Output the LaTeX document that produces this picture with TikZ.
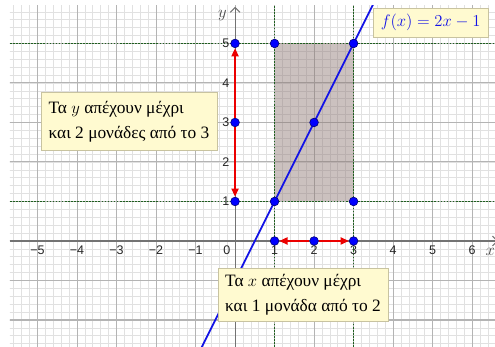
\documentclass[tikz,border=0pt]{standalone}
\usepackage[no-math]{fontspec}
\newfontfamily\grfont{Liberation Serif}
\newfontfamily\ticksf{Liberation Sans}
\usetikzlibrary{arrows.meta}

\definecolor{gridmajor}{RGB}{180,180,180}
\definecolor{gridminor}{RGB}{225,225,225}
\definecolor{dotgreen}{RGB}{30,95,30}
\definecolor{linefx}{RGB}{20,20,230}
\definecolor{boxfill}{RGB}{255,250,208}
\definecolor{boxdraw}{RGB}{200,195,160}
\definecolor{rectfill}{RGB}{140,118,115}
\definecolor{arrowred}{RGB}{235,0,0}

\begin{document}
\begin{tikzpicture}[>=Latex,
    minorgrid/.style={draw=gridminor, line width=0.5pt},
    majorgrid/.style={draw=gridmajor, line width=0.75pt},
    guide/.style={draw=dotgreen, line width=1.3pt, dash pattern=on 1.2pt off 1pt},
    axisline/.style={draw=black!55, line width=0.8pt, -{Straight Barb[length=3.5pt,width=7pt]}},
    blupt/.style={circle, fill=blue, draw=blue!45!black, line width=0.4pt, minimum size=0.22cm, inner sep=0pt},
    spread/.style={draw=arrowred, line width=1.7pt, -{Triangle[length=6pt,width=5pt]}},
    ticklabel/.style={font=\ticksf\fontsize{9}{10}\selectfont, text=black!85, inner sep=0pt},
    notebox/.style={draw=boxdraw, fill=boxfill, align=left, inner sep=0pt, font=\grfont\fontsize{12.5}{18}\selectfont}]
    \useasboundingbox[fill=white] (-5.95,-2.68) rectangle (6.58,6.10);

    % grid, shaded strip, guides, axes and graph
    \begin{scope}
      \clip (-5.7,-2.68) rectangle (6.58,5.95);
      \draw[minorgrid] (-6,-3) grid[step=0.2] (7,6);
      \draw[majorgrid] (-6,-3) grid[step=1] (7,6);
      \fill[rectfill, opacity=0.45] (1,1) rectangle (3,5);
      \draw[guide] (-5.7,5) -- (6.58,5);
      \draw[guide] (-5.7,1) -- (6.58,1);
      \draw[guide] (1,-2.68) -- (1,5.95);
      \draw[guide] (3,-2.68) -- (3,5.95);
      \draw[axisline] (-5.7,0) -- (6.66,0);
      \draw[axisline] (0,-2.68) -- (0,5.93);
      \draw[linefx, line width=1.3pt] (-0.9,-2.8) -- (3.55,6.1);
    \end{scope}

    % tick labels
    \foreach \k in {1,...,5}
      \node[ticklabel] (xn\k) at (-\k,-0.23) {−\k};
    \foreach \k in {1,...,6}
      \node[ticklabel] (xp\k) at (\k,-0.23) {\k};
    \foreach \k in {1,...,5}
      \node[ticklabel] (yp\k) at (-0.23,\k) {\k};
    \node[ticklabel] (orig) at (-0.21,-0.23) {0};
    \node[font=\fontsize{13}{15}\selectfont, text=black!70] (ylab) at (-0.32,5.70) {$y$};
    \node[font=\fontsize{13}{15}\selectfont, text=black!70] (xlab) at (6.46,-0.27) {$x$};

    % points
    \node[blupt] (y5) at (0,5) {};
    \node[blupt] (y3) at (0,3) {};
    \node[blupt] (y1) at (0,1) {};
    \node[blupt] (x1) at (1,0) {};
    \node[blupt] (x2) at (2,0) {};
    \node[blupt] (x3) at (3,0) {};
    \node[blupt] (a) at (1,1) {};
    \node[blupt] (b) at (2,3) {};
    \node[blupt] (c) at (3,5) {};
    \node[blupt] (d) at (3,1) {};
    \node[blupt] (e) at (1,5) {};

    \draw[spread] (y3) -- (y5);
    \draw[spread] (y3) -- (y1);
    \draw[spread] (x2) -- (x1);
    \draw[spread] (x2) -- (x3);

    % notes
    \node[notebox, minimum width=4.46cm, minimum height=1.48cm] (ybox) at (-2.685,3.03) {Τα $y$ απέχουν μέχρι\\και 2 μονάδες από το 3};
    \node[notebox, minimum width=4.30cm, minimum height=1.35cm] (xbox) at (1.72,-1.355) {Τα $x$ απέχουν μέχρι\\και 1 μονάδα από το 2};
    \node[notebox, text=linefx, minimum width=2.92cm, minimum height=0.74cm, font=\fontsize{12.5}{14}\selectfont] (fbox) at (4.95,5.53) {$f(x)=2x-1$};
  \end{tikzpicture}
\end{document}
